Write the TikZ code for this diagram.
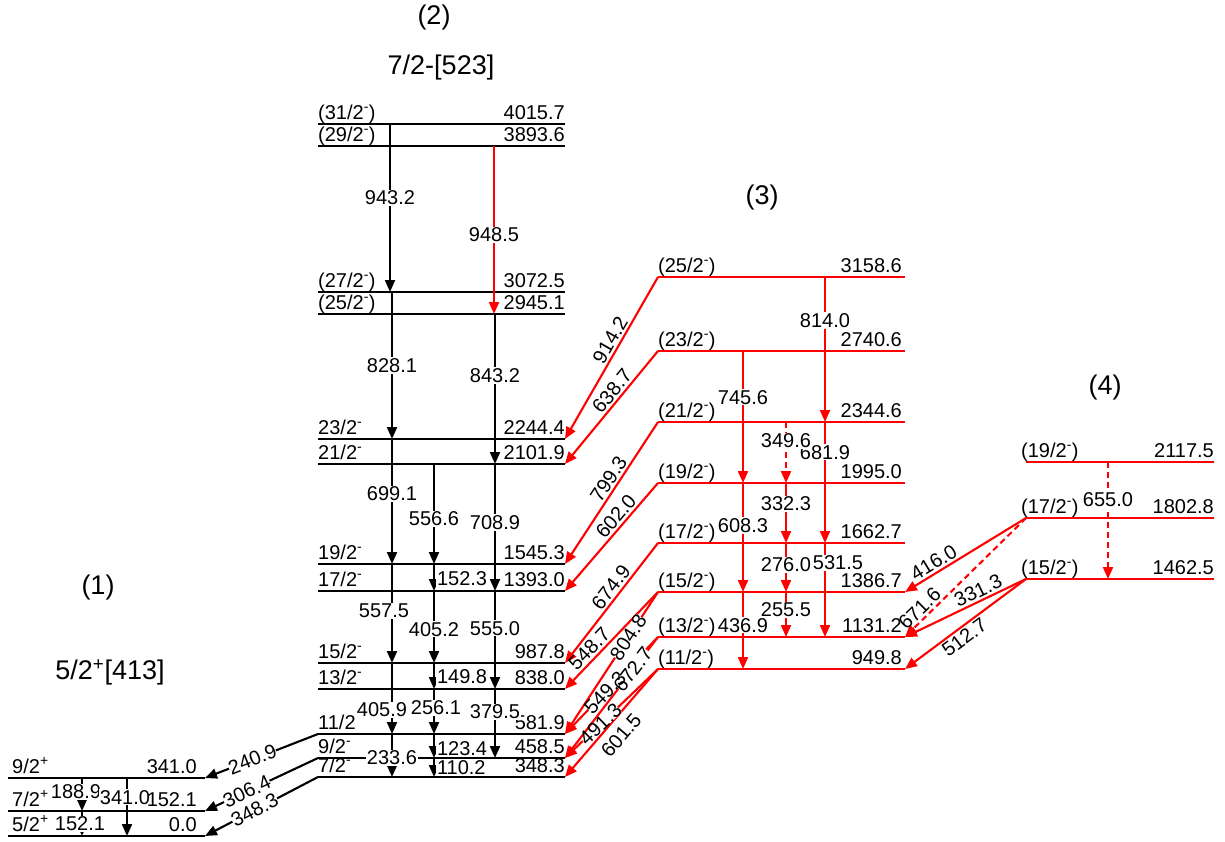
\documentclass[tikz,border=0pt]{standalone}
\usepackage{fontspec}
\setmainfont{Liberation Sans}
\usetikzlibrary{arrows.meta}

\newcommand{\parneg}{\textsuperscript{-}}
\newcommand{\parpos}{\textsuperscript{+}}

\tikzset{
  lev/.style={line width=2.8pt},
  tr/.style={line width=2.1pt,-{Triangle[length=12pt,width=10pt]}},
  dsh/.style={dash pattern=on 6pt off 4pt},
  txt/.style={inner sep=0pt,text=black,font=\fontsize{20}{22}\selectfont},
  lab/.style={txt,fill=white,inner sep=1pt},
  slab/.style={txt,sloped,inner sep=2pt},
  online/.style={inner sep=0pt},
  gap/.style={sloped,fill=white,inner sep=0pt,minimum width=48pt,minimum height=12pt},
  ttl/.style={font=\fontsize{27}{30}\selectfont}
}

\begin{document}
\begin{tikzpicture}[x=1pt,y=-1pt]
  \useasboundingbox (0,0) rectangle (1225,841);

  % band headings
  \node[ttl] (head1) at (98,588) {(1)};
  \node[ttl] (conf1) at (110,672) {5/2\parpos[413]};
  \node[ttl] (head2) at (434,18) {(2)};
  \node[ttl] (conf2) at (441,68) {7/2-[523]};
  \node[ttl] (head3) at (762,198) {(3)};
  \node[ttl] (head4) at (1105,388) {(4)};

  % band (1): coordinates first, transitions under the level texts
  \coordinate (b1s9) at (8,778); \coordinate (b1s7) at (8,811); \coordinate (b1s5) at (8,836);
  \foreach \xx/\src/\dst/\ps/\dx/\lbl [count=\i] in {82/b1s9/b1s7/.42/-6/188.9, 127/b1s9/b1s5/.33/-2/341.0, 82/b1s7/b1s5/.52/-2/152.1}
    \draw[tr] (\xx,0 |- \src) -- (\xx,0 |- \dst) node[lab,pos=\ps,xshift=\dx] (g\i) {\lbl};
  \foreach \nm/\yy/\spn/\ene in {b1s9/778/{9/2\parpos}/341.0, b1s7/811/{7/2\parpos}/152.1, b1s5/836/{5/2\parpos}/0.0}{
    \draw[lev] (\nm) -- (205,\yy) coordinate (\nm-r);
    \node[txt,anchor=base west] (\nm-j) at ([shift={(4pt,5pt)}]\nm) {\spn};
    \node[txt,anchor=base east] (\nm-e) at ([shift={(-8pt,5pt)}]\nm-r) {\ene};
  }

  % levels of band (2)
  \foreach \nm/\yy/\spn/\ene in {b2s31/124/{(31/2\parneg)}/4015.7, b2s29/146/{(29/2\parneg)}/3893.6,
      b2s27/292/{(27/2\parneg)}/3072.5, b2s25/314/{(25/2\parneg)}/2945.1,
      b2s23/439/{23/2\parneg}/2244.4, b2s21/464/{21/2\parneg}/2101.9,
      b2s19/564/{19/2\parneg}/1545.3, b2s17/591/{17/2\parneg}/1393.0,
      b2s15/663/{15/2\parneg}/987.8, b2s13/689/{13/2\parneg}/838.0,
      b2s11/734/{11/2}/581.9, b2s9/758/{9/2\parneg}/458.5, b2s7/777/{7/2\parneg}/348.3}{
    \draw[lev] (318,\yy) coordinate (\nm) -- (565,\yy) coordinate (\nm-r);
    \node[txt,anchor=base west] (\nm-j) at ([yshift=5pt]\nm) {\spn};
    \node[txt,anchor=base east] (\nm-e) at ([yshift=5pt]\nm-r) {\ene};
  }

  % levels of band (3)
  \foreach \nm/\yy/\spn/\ene in {b3s25/277/{(25/2\parneg)}/3158.6, b3s23/351/{(23/2\parneg)}/2740.6,
      b3s21/422/{(21/2\parneg)}/2344.6, b3s19/483/{(19/2\parneg)}/1995.0,
      b3s17/543/{(17/2\parneg)}/1662.7, b3s15/592/{(15/2\parneg)}/1386.7,
      b3s13/637/{(13/2\parneg)}/1131.2, b3s11/669/{(11/2\parneg)}/949.8}{
    \draw[lev,red] (658,\yy) coordinate (\nm) -- (905,\yy) coordinate (\nm-r);
    \node[txt,anchor=base west] (\nm-j) at ([yshift=5pt]\nm) {\spn};
    \node[txt,anchor=base east] (\nm-e) at ([shift={(-3pt,5pt)}]\nm-r) {\ene};
  }

  % levels of band (4)
  \foreach \nm/\yy/\spn/\ene in {b4s19/462/{(19/2\parneg)}/2117.5, b4s17/518/{(17/2\parneg)}/1802.8,
      b4s15/579/{(15/2\parneg)}/1462.5}{
    \draw[lev,red] (1026,\yy) coordinate (\nm) -- (1214,\yy) coordinate (\nm-r);
    \node[txt,anchor=base west] (\nm-j) at ([shift={(-5pt,5pt)}]\nm) {\spn};
    \node[txt,anchor=base east] (\nm-e) at ([yshift=5pt]\nm-r) {\ene};
  }

  % in-band transitions, label on the line
  \foreach \xx/\src/\dst/\ps/\dx/\lbl [count=\i] in {390/b2s31/b2s27/.44/0/943.2, 392/b2s27/b2s23/.50/0/828.1,
      495/b2s25/b2s21/.41/0/843.2, 392/b2s23/b2s19/.44/0/699.1, 434/b2s21/b2s19/.55/0/556.6,
      495/b2s21/b2s17/.46/0/708.9, 392/b2s19/b2s15/.47/-8/557.5, 434/b2s17/b2s15/.53/0/405.2,
      495/b2s17/b2s13/.38/0/555.0, 392/b2s15/b2s11/.66/-10/405.9, 434/b2s13/b2s11/.42/2/256.1,
      495/b2s13/b2s9/.33/0/379.5, 392/b2s11/b2s7/.56/0/233.6}
    \draw[tr] (\xx,0 |- \src) -- (\xx,0 |- \dst) node[lab,pos=\ps,xshift=\dx] (v\i) {\lbl};

  % short in-band transitions, label beside the arrow
  \foreach \src/\dst/\ps/\lbl [count=\i] in {b2s19/b2s17/.55/152.3, b2s15/b2s13/.54/149.8,
      b2s11/b2s9/.6/123.4, b2s9/b2s7/.53/110.2}
    \draw[tr] (434,0 |- \src) -- (434,0 |- \dst) node[lab,pos=\ps,anchor=west,xshift=1pt] (w\i) {\lbl};

  \draw[tr,red] (494,0 |- b2s29) -- (494,0 |- b2s25) node[lab,pos=.53] (r1) {948.5};

  \foreach \xx/\src/\dst/\ps/\dx/\lbl [count=\i] in {825/b3s25/b3s21/.30/0/814.0, 743/b3s23/b3s19/.35/0/745.6,
      825/b3s21/b3s17/.25/0/681.9, 786/b3s19/b3s17/.35/0/332.3, 743/b3s19/b3s15/.39/0/608.3,
      786/b3s17/b3s15/.45/0/276.0, 825/b3s17/b3s13/.21/13/531.5, 786/b3s15/b3s13/.40/0/255.5,
      743/b3s15/b3s11/.43/0/436.9}
    \draw[tr,red] (\xx,0 |- \src) -- (\xx,0 |- \dst) node[lab,pos=\ps,xshift=\dx] (u\i) {\lbl};

  \draw[tr,red,dsh] (786,0 |- b3s21) -- (786,0 |- b3s19) node[lab,pos=.31] (r2) {349.6};
  \draw[tr,red,dsh] (1108,0 |- b4s19) -- (1108,0 |- b4s15) node[lab,pos=.32] (r3) {655.0};

  % inter-band transitions
  \foreach \src/\dst/\ps/\side/\lbl [count=\i] in {b3s25/b2s23-r/.42/above/914.2, b3s23/b2s21-r/.41/above/638.7,
      b3s21/b2s19-r/.44/above/799.3, b3s19/b2s17-r/.37/above/602.0, b3s17/b2s15-r/.42/above/674.9,
      b3s15/b2s13-r/.66/above/548.7,
      b4s17/b3s15-r/.72/above/416.0, b4s15/b3s13-r/.36/above/331.3, b4s15/b3s11-r/.56/below/512.7}
    \draw[tr,red] (\src) -- (\dst) node[slab,pos=\ps,\side] (x\i) {\lbl};

  \draw[tr,red] (b3s11) -- (b2s7-r) node[slab,pos=.52,below,inner sep=7pt] (r5) {601.5};
  \draw[tr,red,dsh] (b4s17) -- (b3s13-r) node[slab,pos=.82,above] (r4) {671.6};

  % crossing ones: lines with a white gap first, then their texts on top
  \foreach \src/\dst/\ps/\lbl [count=\i] in {b3s11/b2s9-r/.62/491.3, b3s13/b2s11-r/.57/549.3,
      b3s13/b2s9-r/.27/672.7, b3s15/b2s11-r/.32/804.8}
    \draw[tr,red] (\src) -- (\dst) node[gap,pos=\ps] (z\i) {};
  \foreach \src/\dst/\ps/\lbl [count=\i] in {b3s11/b2s9-r/.62/491.3, b3s13/b2s11-r/.57/549.3,
      b3s13/b2s9-r/.27/672.7, b3s15/b2s11-r/.32/804.8}
    \path (\src) -- (\dst) node[slab,pos=\ps,online] (zt\i) {\lbl};

  \foreach \src/\dst/\ps/\lbl [count=\i] in {b2s11/b1s9-r/.58/240.9, b2s9/b1s7-r/.63/306.4, b2s7/b1s5-r/.56/348.3}
    \draw[tr] (\src) -- (\dst) node[slab,pos=\ps,online,fill=white] (y\i) {\lbl};
\end{tikzpicture}
\end{document}
